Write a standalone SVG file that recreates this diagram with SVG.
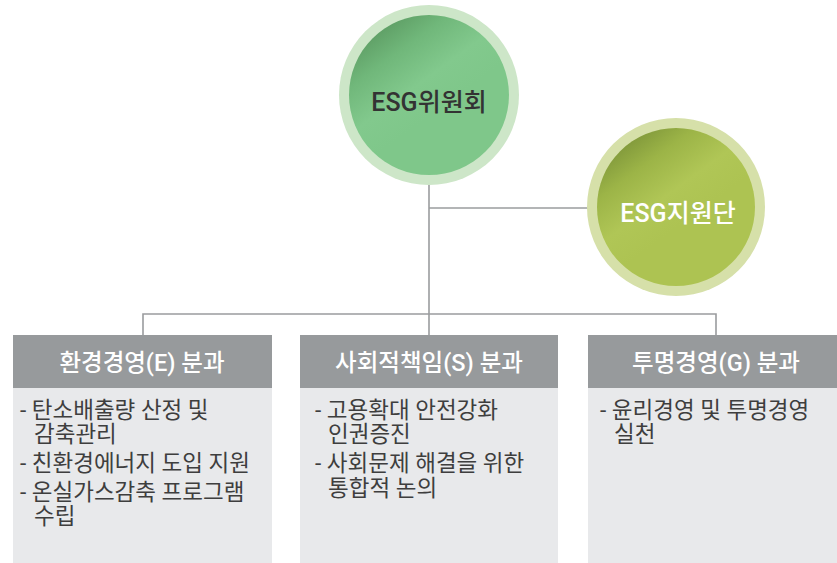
<svg xmlns="http://www.w3.org/2000/svg" width="837" height="563" viewBox="0 0 837 563">
<defs>
<linearGradient id="gGreen" x1="0.15" y1="0.05" x2="0.55" y2="0.6">
<stop offset="0" stop-color="#5a9860"/>
<stop offset="0.35" stop-color="#70b77a"/>
<stop offset="0.7" stop-color="#82c98d"/>
<stop offset="1" stop-color="#7fc78a"/>
</linearGradient>
<linearGradient id="gOlive" x1="0.15" y1="0.05" x2="0.55" y2="0.6">
<stop offset="0" stop-color="#7a9238"/>
<stop offset="0.35" stop-color="#9cb447"/>
<stop offset="0.7" stop-color="#b0c656"/>
<stop offset="1" stop-color="#adc352"/>
</linearGradient>
<style>
.conn{fill:none;stroke:#9a9c9e;stroke-width:1.6}
.hdr{fill:#979a9c}
.body{fill:#e8e9eb}
.htxt{font-family:"Roboto","Noto Sans CJK KR",sans-serif;font-size:23.5px;font-weight:500;fill:#ffffff;text-anchor:middle}
.btxt{font-family:"Roboto","Noto Sans CJK KR",sans-serif;font-size:22.5px;fill:#3e3e3e}
.ctxt{font-family:"Roboto","Noto Sans CJK KR",sans-serif;font-size:25px;font-weight:500;text-anchor:middle}
</style>
</defs>
<g id="connectors">
<path class="conn" d="M429 180 V314"/>
<path class="conn" d="M429 208 H590"/>
<path class="conn" d="M143 335 V314 H716 V335"/>
<path class="conn" d="M429 314 V335"/>
</g>
<g id="esg-committee">
<circle cx="429" cy="95" r="90" fill="#cde6c8"/>
<circle cx="429" cy="95" r="80" fill="url(#gGreen)"/>
<text class="ctxt" x="429" y="111" fill="#333333">ESG위원회</text>
</g>
<g id="esg-support">
<circle cx="676" cy="207" r="89" fill="#d6e0a9"/>
<circle cx="676" cy="207" r="79" fill="url(#gOlive)"/>
<text class="ctxt" x="678" y="222" fill="#ffffff">ESG지원단</text>
</g>
<g id="env">
<rect class="hdr" x="13" y="335" width="259" height="53"/>
<rect class="body" x="13" y="388" width="259" height="175"/>
<text class="htxt" x="142" y="371">환경경영(E) 분과</text>
<text class="btxt" x="20" y="418">- 탄소배출량 산정 및</text>
<text class="btxt" x="34" y="442">감축관리</text>
<text class="btxt" x="20" y="471">- 친환경에너지 도입 지원</text>
<text class="btxt" x="20" y="500">- 온실가스감축 프로그램</text>
<text class="btxt" x="34" y="524">수립</text>
</g>
<g id="social">
<rect class="hdr" x="300" y="335" width="258" height="53"/>
<rect class="body" x="300" y="388" width="258" height="175"/>
<text class="htxt" x="429" y="371">사회적책임(S) 분과</text>
<text class="btxt" x="315" y="418">- 고용확대 안전강화</text>
<text class="btxt" x="328" y="442">인권증진</text>
<text class="btxt" x="315" y="471">- 사회문제 해결을 위한</text>
<text class="btxt" x="328" y="496">통합적 논의</text>
</g>
<g id="gov">
<rect class="hdr" x="588" y="335" width="258" height="53"/>
<rect class="body" x="588" y="388" width="258" height="175"/>
<text class="htxt" x="716" y="371">투명경영(G) 분과</text>
<text class="btxt" x="600" y="418">- 윤리경영 및 투명경영</text>
<text class="btxt" x="614" y="442">실천</text>
</g>
</svg>
